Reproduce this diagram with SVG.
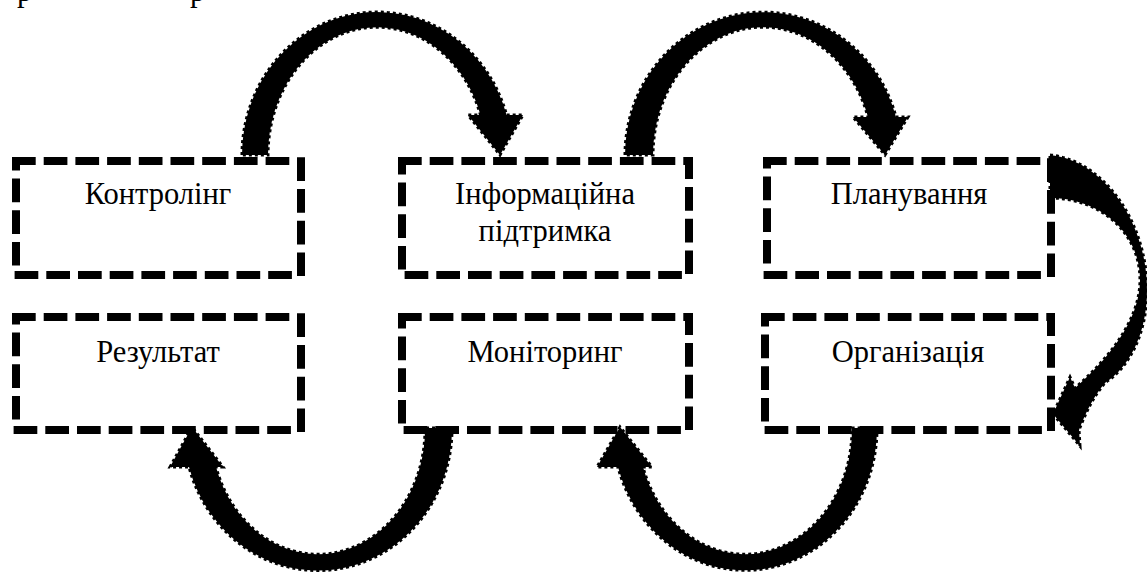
<svg xmlns="http://www.w3.org/2000/svg" width="1147" height="572" viewBox="0 0 1147 572">
<style>
.box{fill:none;stroke:#000;stroke-width:8;stroke-dasharray:15.7 16;stroke-linecap:square}
.lbl{font-family:'Liberation Serif','Times New Roman',serif;font-size:30.5px;fill:#000;text-anchor:middle}
.arr{fill:#000;stroke:#000;stroke-width:3;stroke-dasharray:3 3}
</style>
<rect width="1147" height="572" fill="#fff"/>
<g id="fragments">
<text class="lbl" x="17" y="1" style="text-anchor:start">р</text>
<text class="lbl" x="190" y="1" style="text-anchor:start">р</text>
</g>
<g id="connectors">
<path class="arr" d="M242,155 A135 143 0 0 1 506.6,115 L523,115 L500,155 L468,115 L480.5,115 A109 128 0 0 0 268,155 Z"/>
<path class="arr" d="M625,155 A138 143 0 0 1 896,117 L908,117 L885,155 L853,117 L868,117 A110 128 0 0 0 653,155 Z"/>
<path class="arr" d="M1050,155 C1102,160 1147,220 1147,290 C1147,335 1128,368 1106,382 C1094,395 1086,412 1079,430 L1080,446 L1053,414 L1070,377 L1075,388 C1105,362 1140,322 1140,280 C1140,232 1100,198 1050,198 Z"/>
<path class="arr" d="M452,428 A134 142 0 0 1 189,467 L170,467 L192,427 L223,467 L216,467 A107 125 0 0 0 425,428 Z"/>
<path class="arr" d="M877,428 A132 142 0 0 1 618,467 L597,467 L620,427 L652,467 L643,467 A107 125 0 0 0 852,428 Z"/>
</g>
<g id="kontroling"><rect class="box" x="16" y="161" width="285" height="114"/><text class="lbl" x="158" y="204">Контролінг</text></g>
<g id="informatsiina"><rect class="box" x="402" y="161" width="287" height="114"/><text class="lbl" x="545" y="204">Інформаційна</text><text class="lbl" x="545" y="241">підтримка</text></g>
<g id="planuvannia"><rect class="box" x="767" y="161" width="284" height="114"/><text class="lbl" x="909" y="204">Планування</text></g>
<g id="rezultat"><rect class="box" x="16" y="317" width="285" height="113"/><text class="lbl" x="158" y="362">Результат</text></g>
<g id="monitorynh"><rect class="box" x="402" y="317" width="287" height="113"/><text class="lbl" x="545" y="362">Моніторинг</text></g>
<g id="orhanizatsiia"><rect class="box" x="765" y="317" width="286" height="113"/><text class="lbl" x="908" y="362">Організація</text></g>
</svg>
